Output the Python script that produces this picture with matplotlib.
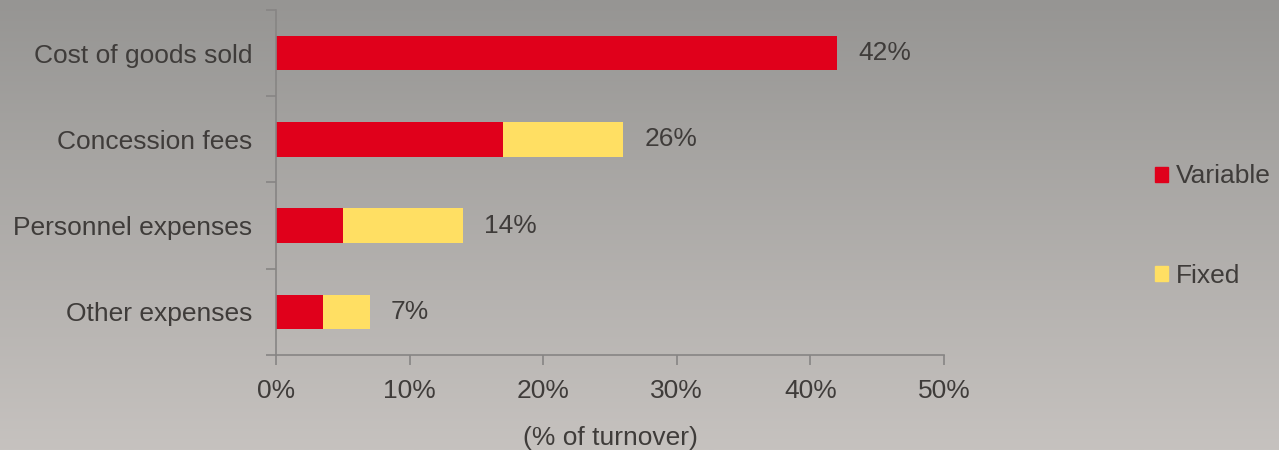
import numpy as np
import matplotlib
matplotlib.use("Agg")
from matplotlib import pyplot as plt
from matplotlib.patches import Patch

plt.rcParams['font.family'] = ['Liberation Sans', 'DejaVu Sans']

# cost structure, % of turnover
categories = ["Cost of goods sold", "Concession fees", "Personnel expenses", "Other expenses"]
variable = [42, 17, 5, 3.5]
fixed = [0, 9, 9, 3.5]
totals = [42, 26, 14, 7]
xticks = [0, 10, 20, 30, 40, 50]

red = "#e0001b"
yellow = "#ffdf63"
txt = "#3f3c3a"
axcol = "#878584"
fs = 19

fig = plt.figure(figsize=(12.79, 4.5), dpi=100)

# grey background fading lighter towards the bottom
bg = fig.add_axes([0, 0, 1, 1], zorder=-10)
top = np.array([0x96, 0x95, 0x93]) / 255
bot = np.array([0xc6, 0xc2, 0xbf]) / 255
t = np.linspace(0, 1, 256)[:, None]
grad = top * (1 - t) + bot * t
bg.imshow(grad[:, None, :], aspect='auto', extent=[0, 1, 0, 1])
bg.axis('off')

ax = fig.add_axes([276 / 1279, 1 - 355 / 450, (944 - 276) / 1279, 345 / 450])
ax.patch.set_alpha(0)

y = np.arange(len(categories))
ax.barh(y, variable, height=0.4, color=red, label="Variable")
ax.barh(y, fixed, left=variable, height=0.4, color=yellow, label="Fixed")

for yi, tot in zip(y, totals):
    ax.annotate(f"{tot}%", (tot, yi), xytext=(15, 0), textcoords='offset points',
                va='center', ha='left', fontsize=fs, color=txt)

ax.set_ylim(len(categories) - 0.5, -0.5)
ax.set_xlim(0, 50)
ax.set_yticks(y)
ax.set_yticklabels(categories)
ax.set_yticks(np.arange(-0.5, len(categories)), minor=True)
ax.tick_params(axis='y', which='major', length=0, pad=17, labelsize=fs, labelcolor=txt)
ax.tick_params(axis='y', which='minor', length=7, color=axcol, width=1.2)
ax.set_xticks(xticks)
ax.set_xticklabels([f"{v}%" for v in xticks])
ax.tick_params(axis='x', length=7, color=axcol, width=1.2, pad=10, labelsize=fs, labelcolor=txt)
ax.set_xlabel("(% of turnover)", fontsize=fs, color=txt, labelpad=17)

for s in ['top', 'right']:
    ax.spines[s].set_visible(False)
for s in ['left', 'bottom']:
    ax.spines[s].set_color(axcol)
    ax.spines[s].set_linewidth(1.2)

handles = [Patch(color=red), Patch(color=yellow)]
fig.legend(handles, ["Variable", "Fixed"], loc='center left',
           bbox_to_anchor=(1155 / 1279, 1 - 226 / 450), frameon=False,
           fontsize=fs, labelcolor=txt, handlelength=0.5, handleheight=0.5,
           handletextpad=0.3, labelspacing=2.85, borderaxespad=0, borderpad=0)

fig.savefig("out.png", dpi=100)
